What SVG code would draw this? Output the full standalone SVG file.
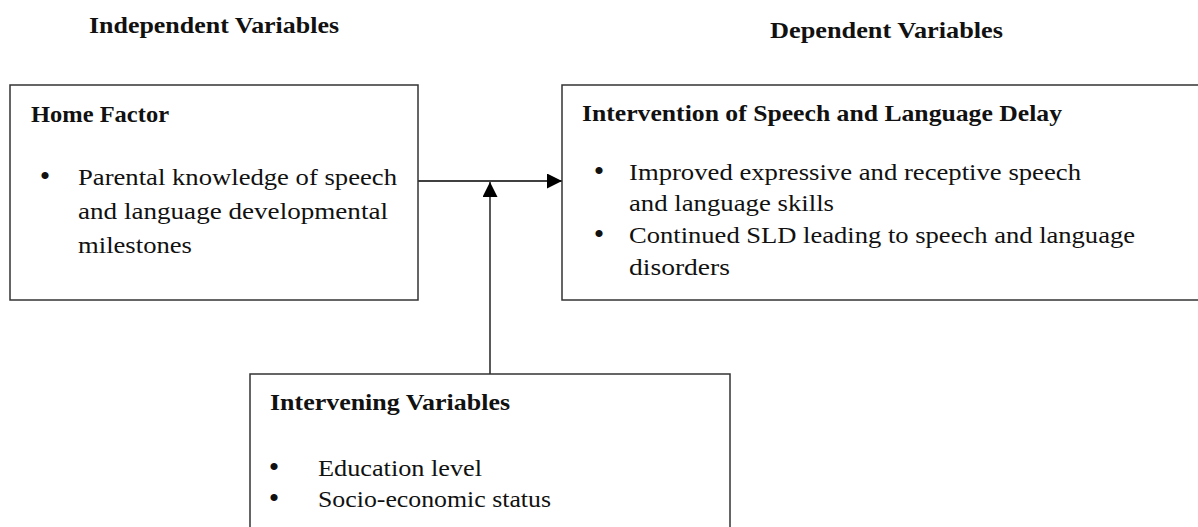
<svg xmlns="http://www.w3.org/2000/svg" width="1198" height="527" viewBox="0 0 1198 527">
  <defs>
    <style>
      .box { fill: #ffffff; stroke: #333333; stroke-width: 1.5; }
      .wire { fill: none; stroke: #000000; stroke-width: 1.3; }
      .t { font-family: "Liberation Serif", "Times New Roman", serif; font-size: 23px; fill: #111111; }
      .b { font-weight: bold; }
      .dot { text-anchor: middle; font-size: 30px; }
    </style>
    <marker id="head" viewBox="0 0 15 15" refX="15" refY="7.5" markerWidth="15" markerHeight="15" markerUnits="userSpaceOnUse" orient="auto">
      <path d="M0,0 L15,7.5 L0,15 Z" fill="#000000"/>
    </marker>
  </defs>

  <rect width="1198" height="527" fill="#ffffff"/>

  <!-- column headings -->
  <g id="headings">
    <text class="t b" x="89" y="33" textLength="250" lengthAdjust="spacingAndGlyphs">Independent Variables</text>
    <text class="t b" x="770" y="38" textLength="233" lengthAdjust="spacingAndGlyphs">Dependent Variables</text>
  </g>

  <!-- connectors -->
  <g id="connectors">
    <line class="wire" x1="418" y1="181" x2="562" y2="181" marker-end="url(#head)"/>
    <line class="wire" x1="490" y1="374" x2="490" y2="182" marker-end="url(#head)"/>
  </g>

  <!-- independent variable -->
  <g id="home-factor">
    <rect class="box" x="10" y="85" width="408" height="215"/>
    <text class="t b" x="31" y="122" textLength="138" lengthAdjust="spacingAndGlyphs">Home Factor</text>
    <text class="t dot" x="45" y="186">•</text>
    <text class="t" x="78" y="185" textLength="319" lengthAdjust="spacingAndGlyphs">Parental knowledge of speech</text>
    <text class="t" x="78" y="219" textLength="310" lengthAdjust="spacingAndGlyphs">and language developmental</text>
    <text class="t" x="78" y="253" textLength="114" lengthAdjust="spacingAndGlyphs">milestones</text>
  </g>

  <!-- dependent variable -->
  <g id="intervention">
    <rect class="box" x="562" y="85" width="660" height="215"/>
    <text class="t b" x="582" y="121" textLength="480" lengthAdjust="spacingAndGlyphs">Intervention of Speech and Language Delay</text>
    <text class="t dot" x="599" y="181">•</text>
    <text class="t" x="629" y="180" textLength="452" lengthAdjust="spacingAndGlyphs">Improved expressive and receptive speech</text>
    <text class="t" x="629" y="211" textLength="205" lengthAdjust="spacingAndGlyphs">and language skills</text>
    <text class="t dot" x="599" y="244">•</text>
    <text class="t" x="629" y="243" textLength="506" lengthAdjust="spacingAndGlyphs">Continued SLD leading to speech and language</text>
    <text class="t" x="629" y="275" textLength="101" lengthAdjust="spacingAndGlyphs">disorders</text>
  </g>

  <!-- intervening variables -->
  <g id="intervening">
    <rect class="box" x="250" y="374" width="480" height="170"/>
    <text class="t b" x="270" y="410" textLength="240" lengthAdjust="spacingAndGlyphs">Intervening Variables</text>
    <text class="t dot" x="274" y="477">•</text>
    <text class="t" x="318" y="476" textLength="164" lengthAdjust="spacingAndGlyphs">Education level</text>
    <text class="t dot" x="274" y="508">•</text>
    <text class="t" x="318" y="507" textLength="233" lengthAdjust="spacingAndGlyphs">Socio-economic status</text>
  </g>
</svg>
